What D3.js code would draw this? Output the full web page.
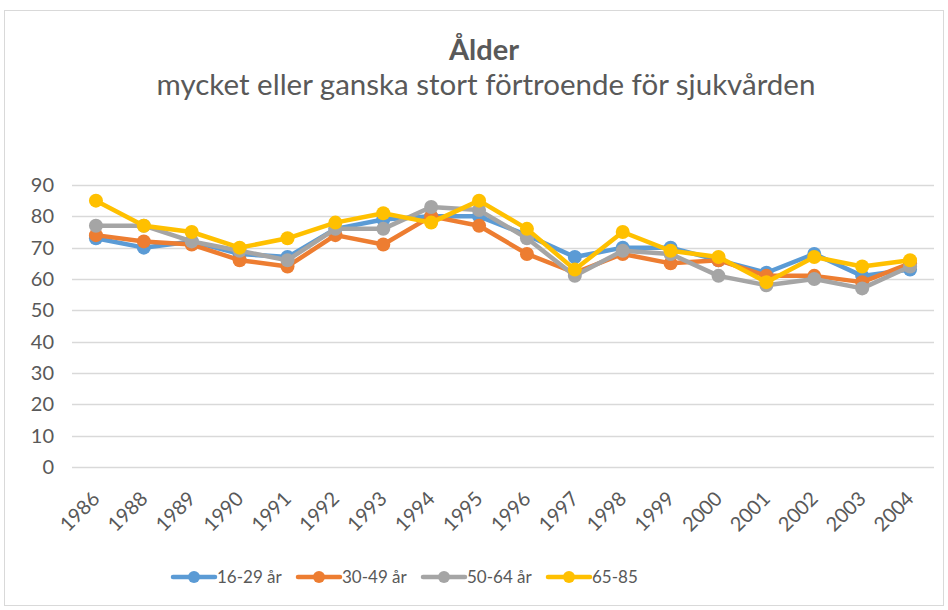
<!DOCTYPE html>
<html>
<head>
<meta charset="utf-8">
<script src="https://cdn.jsdelivr.net/npm/d3@7"></script>
<style>
  body { margin: 0; background: #fff; }
  svg { display: block; font-family: Lato, "Open Sans", sans-serif; }
</style>
</head>
<body>
<svg id="chart"></svg>
<script>
// categories (years)
var years = ["1986","1988","1989","1990","1991","1992","1993","1994","1995","1996","1997","1998","1999","2000","2001","2002","2003","2004"];

// series values
var age16_29 = [73,70,72,68,67,76,79,80,80,74,67,70,70,66,62,68,61,63];
var age30_49 = [74,72,71,66,64,74,71,80,77,68,62,68,65,66,61,61,59,65];
var age50_64 = [77,77,72,69,66,76,76,83,82,73,61,69,68,61,58,60,57,64];
var age65_85 = [85,77,75,70,73,78,81,78,85,76,63,75,69,67,59,67,64,66];

var seriesNames = ["16-29 år","30-49 år","50-64 år","65-85"];
var seriesColors = ["#5B9BD5","#ED7D31","#A5A5A5","#FFC000"];
var yTicks = [0,10,20,30,40,50,60,70,80,90];

var width = 948, height = 610;
var marginLeft = 72, marginRight = 14, marginTop = 185, plotBottom = 467;

var svg = d3.select("#chart")
	.attr("width", width)
	.attr("height", height);

//chart border
svg.append("rect")
	.attr("x", 4.5)
	.attr("y", 10.5)
	.attr("width", width - 9)
	.attr("height", height - 15)
	.style("fill", "#fff")
	.style("stroke", "#d9d9d9")
	.style("stroke-width", "1px");

//titles
svg.append("text")
	.attr("x", 484)
	.attr("y", 60)
	.attr("text-anchor", "middle")
	.style("font-size", "29px")
	.style("font-weight", "bold")
	.style("fill", "#595959")
	.text("Ålder");

svg.append("text")
	.attr("x", 486)
	.attr("y", 95)
	.attr("text-anchor", "middle")
	.style("font-size", "29.5px")
	.style("fill", "#595959")
	.text("mycket eller ganska stort förtroende för sjukvården");

//scales
var xScale = d3.scaleBand()
	.domain(years)
	.range([marginLeft, width - marginRight]);

var yScale = d3.scaleLinear()
	.domain([0, 90])
	.range([plotBottom, marginTop]);

//grid lines
svg.selectAll("line.grid")
	.data(yTicks)
	.enter()
	.append("line")
	.attr("class", "grid")
	.attr("x1", marginLeft)
	.attr("x2", width - marginRight)
	.attr("y1", function(d){ return Math.round(yScale(d)) + 0.5; })
	.attr("y2", function(d){ return Math.round(yScale(d)) + 0.5; })
	.style("stroke", "#d9d9d9")
	.style("stroke-width", "1.5px");

//y axis labels
var yAxis = svg.append("g")
	.attr("transform", "translate(" + (marginLeft - 18) + ",0)")
	.call(d3.axisLeft(yScale).tickValues(yTicks).tickSize(0).tickPadding(0));
yAxis.select(".domain").remove();
yAxis.selectAll("text")
	.style("font-family", "Lato, 'Open Sans', sans-serif")
	.style("font-size", "20px")
	.style("fill", "#595959");

//x axis labels
var xAxis = svg.append("g")
	.attr("transform", "translate(0," + plotBottom + ")")
	.call(d3.axisBottom(xScale).tickSize(0).tickPadding(0));
xAxis.select(".domain").remove();
xAxis.selectAll("text")
	.attr("text-anchor", "end")
	.attr("dy", 0)
	.attr("transform", "translate(5,33) rotate(-45)")
	.style("font-family", "Lato, 'Open Sans', sans-serif")
	.style("font-size", "20px")
	.style("fill", "#595959");

//series
var allSeries = [age16_29, age30_49, age50_64, age65_85];

var line = d3.line()
	.x(function(d, i){ return xScale(years[i]) + xScale.bandwidth()/2; })
	.y(function(d){ return yScale(d); })
	.curve(d3.curveLinear);

allSeries.forEach(function(values, k){
	var g = svg.append("g");
	g.append("path")
		.datum(values)
		.attr("d", line)
		.style("fill", "none")
		.style("stroke", seriesColors[k])
		.style("stroke-width", "4.5px")
		.style("stroke-linejoin", "round");
	g.selectAll("circle")
		.data(values)
		.enter()
		.append("circle")
		.attr("cx", function(d, i){ return xScale(years[i]) + xScale.bandwidth()/2; })
		.attr("cy", function(d){ return yScale(d); })
		.attr("r", 7)
		.style("fill", seriesColors[k]);
});

//legend
var legendX = [173, 298, 423, 548];
var legendY = 577;
var legend = svg.selectAll("g.legend")
	.data(seriesNames)
	.enter()
	.append("g")
	.attr("class", "legend")
	.attr("transform", function(d, i){ return "translate(" + legendX[i] + "," + legendY + ")"; });

legend.append("line")
	.attr("x1", 0)
	.attr("x2", 42)
	.attr("y1", 0)
	.attr("y2", 0)
	.style("stroke", function(d, i){ return seriesColors[i]; })
	.style("stroke-width", "4.5px")
	.style("stroke-linecap", "round");

legend.append("circle")
	.attr("cx", 21)
	.attr("cy", 0)
	.attr("r", 6)
	.style("fill", function(d, i){ return seriesColors[i]; });

legend.append("text")
	.attr("x", 44)
	.attr("y", 0)
	.attr("dy", "0.35em")
	.style("font-size", "17px")
	.style("fill", "#595959")
	.text(function(d){ return d; });
</script>
</body>
</html>
